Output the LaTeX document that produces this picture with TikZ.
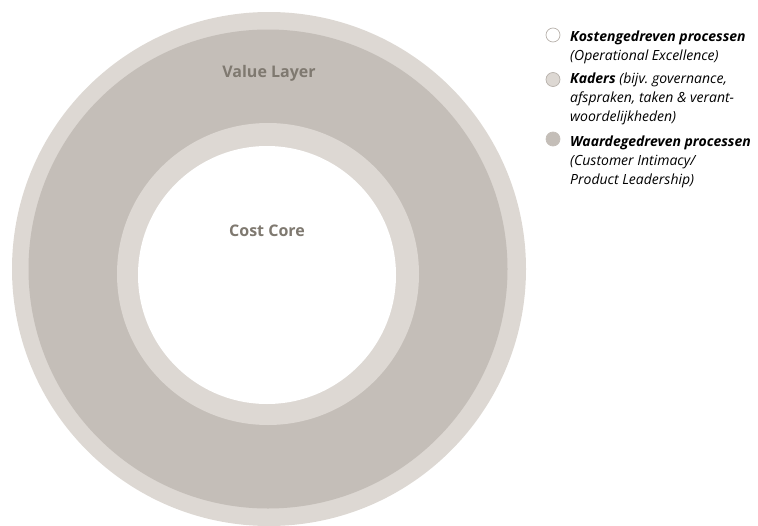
\documentclass[tikz,border=0pt]{standalone}
\usepackage{fontspec}
\setmainfont{Open Sans}
\begin{document}
\definecolor{ringlight}{HTML}{DDD8D3}
\definecolor{ringmid}{HTML}{C4BEB8}
\definecolor{ringtext}{HTML}{7F7970}
\definecolor{dotedge}{HTML}{B8B2AC}
\begin{tikzpicture}[x=1pt,y=-1pt,
  ringlabel/.style={font=\fontsize{16}{18}\selectfont\bfseries, text=ringtext, inner sep=0pt},
  legtext/.style={font=\fontsize{14}{18.7}\selectfont\itshape, align=left, anchor=base west, inner sep=0pt},
  legdot/.style={circle, minimum size=14pt, inner sep=0pt, draw=dotedge, line width=0.7pt}]
\useasboundingbox (0,0) rectangle (758,525);
% concentric rings
\fill[ringlight] (269,269) circle[radius=257];
\fill[ringmid]   (268,269) circle[radius=239.5];
\fill[ringlight] (268,274) circle[radius=151];
\fill[white]     (267,275) circle[radius=129];
\node[ringlabel] (value) at (269,73) {Value Layer};
\node[ringlabel] (core)  at (267,231) {Cost Core};
% legend (each text node is anchored at the baseline of its last line)
\node[legdot, fill=white]     (d1) at (553,35)  {};
\node[legdot, fill=ringlight] (d2) at (553,79.5) {};
\node[legdot, fill=ringmid, draw=ringmid] (d3) at (553,139) {};
\node[legtext] (l1) at (570,60)  {\textbf{Kostengedreven processen}\\(Operational Excellence)};
\node[legtext] (l2) at (570,121) {\textbf{Kaders} (bijv.\ governance,\\afspraken, taken \& verant-\\woordelijkheden)};
\node[legtext] (l3) at (570,184) {\textbf{Waardegedreven processen}\\(Customer Intimacy/\\Product Leadership)};
\end{tikzpicture}
\end{document}
